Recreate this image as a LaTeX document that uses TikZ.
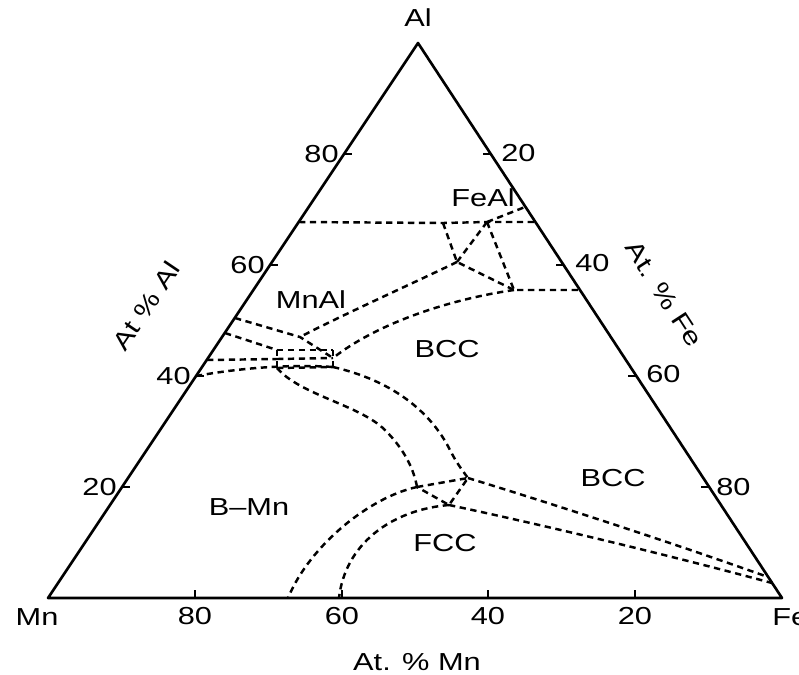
\documentclass[tikz,border=0pt]{standalone}
\usepackage{fontspec}
\setmainfont{Liberation Sans}[FakeStretch=1.25]
\usetikzlibrary{positioning}

\begin{document}
\begin{tikzpicture}[x=0.02cm, y=-0.02cm, font=\fontsize{14}{16}\selectfont,
    side/.style={line width=1.5pt, line join=round},
    tickmark/.style={line width=1.2pt},
    phase/.style={line width=1.4pt, dash pattern=on 3.6pt off 2.6pt},
    num/.style={inner sep=0pt},
    region/.style={inner sep=0pt}]
    \useasboundingbox (0,0) rectangle (799,674);

    % corners of the triangle
    \coordinate (al) at (418,43);
    \coordinate (mn) at (48,598);
    \coordinate (fe) at (782,598);
    \draw[side] (mn) -- (al) -- (fe) -- cycle;

    \node[num] (lal) at (418,18) {Al};
    \node[num] (lmn) at (37,617) {Mn};
    \node[num, anchor=west] (lfe) at (772,617) {Fe};

    % ticks, at % Al
    \draw[tickmark] (122,487) -- +(8,0);
    \draw[tickmark] (196,376) -- +(8,0);
    \draw[tickmark] (270,265) -- +(8,0);
    \draw[tickmark] (344,154) -- +(8,0);
    \node[num, anchor=east] (al20) at (117,487) {20};
    \node[num, anchor=east] (al40) at (191,376) {40};
    \node[num, anchor=east] (al60) at (265,265) {60};
    \node[num, anchor=east] (al80) at (339,154) {80};

    % ticks, at % Fe
    \draw[tickmark] (491,154) -- +(-8,0);
    \draw[tickmark] (564,265) -- +(-8,0);
    \draw[tickmark] (636,376) -- +(-8,0);
    \draw[tickmark] (709,487) -- +(-8,0);
    \node[num, anchor=west] (fe20) at (501,153) {20};
    \node[num, anchor=west] (fe40) at (575,263) {40};
    \node[num, anchor=west] (fe60) at (646,374) {60};
    \node[num, anchor=west] (fe80) at (716,487) {80};

    % ticks, at % Mn
    \draw[tickmark] (195,598) -- +(0,-8);
    \draw[tickmark] (342,598) -- +(0,-8);
    \draw[tickmark] (488,598) -- +(0,-8);
    \draw[tickmark] (635,598) -- +(0,-8);
    \node[num] (mn80) at (195,616) {80};
    \node[num] (mn60) at (342,616) {60};
    \node[num] (mn40) at (488,616) {40};
    \node[num] (mn20) at (635,616) {20};

    % axis titles
    \node[num] (tmn) at (417,662) {At. \% Mn};
    \node[num, rotate=56] (tal) at (146,306) {At \% Al};
    \node[num, rotate=-57] (tfe) at (664,294) {At. \% Fe};

    % junctions of the phase boundaries
    \coordinate (hl) at (299,222);
    \coordinate (hr) at (535,222);
    \coordinate (xc) at (443,223);
    \coordinate (xa) at (487,222);
    \coordinate (fa) at (525,207);
    \coordinate (xb) at (457,262);
    \coordinate (jd) at (514,290);
    \coordinate (rr) at (580,290);
    \coordinate (la) at (235,318);
    \coordinate (xe) at (300,337);
    \coordinate (lb) at (225,333);
    \coordinate (lc) at (207,360);
    \coordinate (ld) at (196,376);
    \coordinate (ft) at (277,350);
    \coordinate (fm) at (277,359);
    \coordinate (fb) at (277,368);
    \coordinate (gt) at (333,350);
    \coordinate (xf) at (333,358);
    \coordinate (gb) at (333,367);
    \coordinate (xg) at (417,487);
    \coordinate (xh) at (468,478);
    \coordinate (xi) at (449,505);
    \coordinate (ba) at (288,598);
    \coordinate (bb) at (339,598);
    \coordinate (ea) at (768,577);
    \coordinate (eb) at (772,583);

    % upper boundaries
    \draw[phase] (hl) -- (xc) -- (xa) -- (hr);
    \draw[phase] (xa) -- (fa);
    \draw[phase] (xc) -- (xb) -- (jd);
    \draw[phase] (xa) -- (xb);
    \draw[phase] (xa) -- (jd) -- (rr);
    \draw[phase] (jd) .. controls (445,300) and (375,325) .. (xf);
    \draw[phase] (xb) .. controls (420,280) and (340,316) .. (xe);
    \draw[phase] (la) -- (xe) -- (xf);

    % MnAl corner
    \draw[phase] (lb) -- (ft);
    \draw[phase] (lc) -- (fm);
    \draw[phase] (ft) -- (fb);
    \draw[phase] (gt) -- (gb);
    \draw[phase] (ft) -- (gt);
    \draw[phase] (fm) -- (xf);
    \draw[phase] (fb) -- (gb);
    \draw[phase] (ld) .. controls (240,368) and (290,364) .. (gb);

    % middle boundaries
    \draw[phase] (fb) .. controls (300,395) and (360,405) .. (385,430)
        .. controls (405,450) and (414,470) .. (xg);
    \draw[phase] (gb) .. controls (390,380) and (430,410) .. (450,450)
        .. controls (456,462) and (462,470) .. (xh);
    \draw[phase] (xg) -- (xh) -- (xi) -- (xg);

    % lower boundaries
    \draw[phase] (xh) .. controls (530,497) and (650,535) .. (ea);
    \draw[phase] (xi) .. controls (520,520) and (650,550) .. (eb);
    \draw[phase] (xg) .. controls (370,497) and (310,545) .. (ba);
    \draw[phase] (xi) .. controls (390,510) and (345,545) .. (bb);

    % phase names
    \node[region] (feal) at (483,198) {FeAl};
    \node[region] (mnal) at (311,300) {MnAl};
    \node[region] (bcca) at (447,349) {BCC};
    \node[region] (bccb) at (613,478) {BCC};
    \node[region] (bmn) at (249,507) {B--Mn};
    \node[region] (fcc) at (445,543) {FCC};
  \end{tikzpicture}
\end{document}
